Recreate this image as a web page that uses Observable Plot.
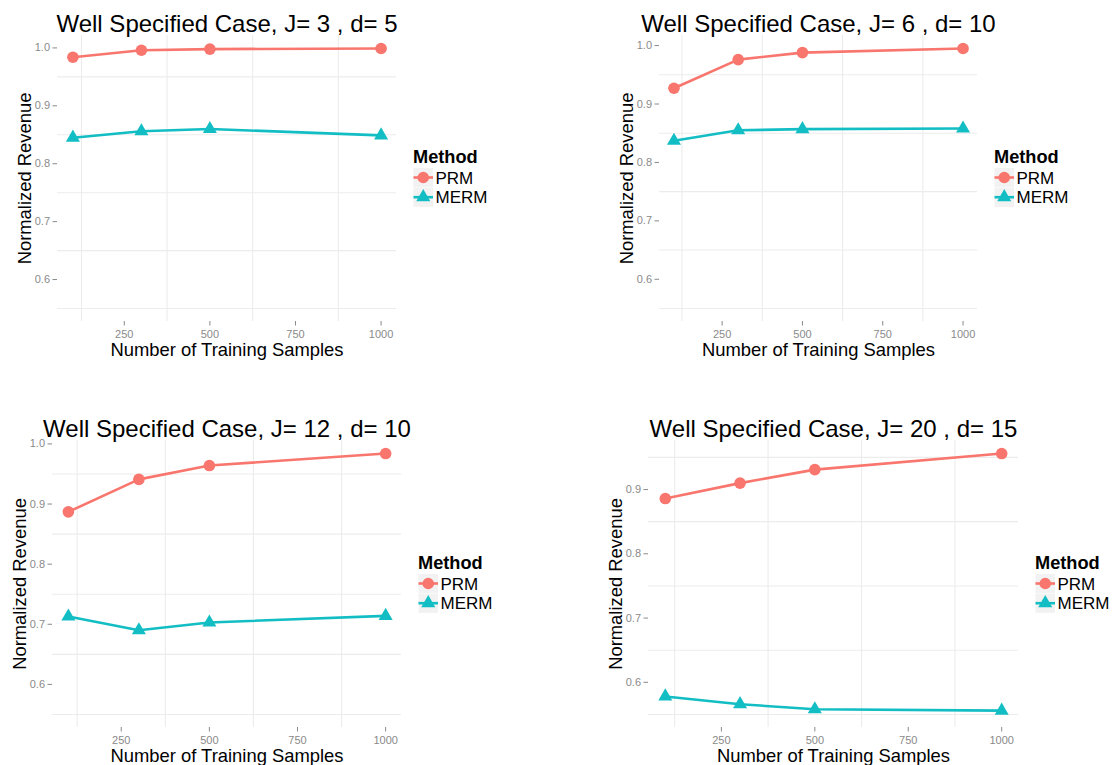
<!DOCTYPE html>
<html><head><meta charset="utf-8">
<script src="https://cdn.jsdelivr.net/npm/d3@7"></script>
<script src="https://cdn.jsdelivr.net/npm/@observablehq/plot@0.6"></script>
<style>
html,body{margin:0;padding:0;background:#fff;overflow:hidden;}
#chart{position:relative;width:1120px;height:765px;background:#fff;font-family:"Liberation Sans",Arial,Helvetica,sans-serif;}
#chart svg{position:absolute;overflow:visible;}
</style></head><body><div id="chart"></div>
<script>
// ---- data ----
const samples = [100, 300, 500, 1000];
const methods = ["PRM", "MERM"];
const titles = [
  "Well Specified Case, J= 3 , d= 5",
  "Well Specified Case, J= 6 , d= 10",
  "Well Specified Case, J= 12 , d= 10",
  "Well Specified Case, J= 20 , d= 15"
];
const xLabel = "Number of Training Samples";
const yLabel = "Normalized Revenue";
const legendTitle = "Method";
const xTicks = [250, 500, 750, 1000];
const yTicks = [0.6, 0.7, 0.8, 0.9, 1.0];
const xMinor = [125, 375, 625, 875];
const yMinor = [0.55, 0.65, 0.75, 0.85, 0.95];
const yLower = 0.55;

const prm_J3  = [0.984, 0.996, 0.998, 0.999];
const merm_J3 = [0.845, 0.856, 0.860, 0.849];
const prm_J6  = [0.927, 0.976, 0.988, 0.995];
const merm_J6 = [0.837, 0.855, 0.857, 0.858];
const prm_J12  = [0.887, 0.941, 0.964, 0.984];
const merm_J12 = [0.713, 0.690, 0.703, 0.714];
const prm_J20  = [0.886, 0.910, 0.931, 0.956];
const merm_J20 = [0.578, 0.566, 0.558, 0.556];

const series = [[prm_J3, merm_J3], [prm_J6, merm_J6], [prm_J12, merm_J12], [prm_J20, merm_J20]];
const colors = ["#F8766D", "#12BEC4"];

// ---- layout (panel frames in page pixels) ----
const frames = [
  {l: 57, r: 396, t: 35, b: 321},
  {l: 659, r: 977, t: 35, b: 321},
  {l: 52, r: 401, t: 440, b: 727},
  {l: 648, r: 1018, t: 440, b: 727}
];
const ML = 60, MT = 40, MR = 10, MB = 45;
const font = '"Liberation Sans", Arial, Helvetica, sans-serif';
const tickColor = "#8a8a8a";
const gridColor = "#ececec";

const chart = document.getElementById("chart");

series.forEach(([prm, merm], i) => {
  const f = frames[i];
  const rows = [];
  samples.forEach((n, j) => rows.push({n, v: prm[j], method: methods[0]}));
  samples.forEach((n, j) => rows.push({n, v: merm[j], method: methods[1]}));
  const hi = d3.max(rows, d => d.v);
  const pad = (hi - yLower) * 0.05;
  const xPad = (d3.max(samples) - d3.min(samples)) * 0.05;
  const yt = yTicks.filter(t => t >= yLower - pad && t <= hi + pad);

  const svg = Plot.plot({
    width: (f.r - f.l) + ML + MR,
    height: (f.b - f.t) + MT + MB,
    marginLeft: ML, marginRight: MR, marginTop: MT, marginBottom: MB,
    style: {fontFamily: font, background: "transparent", overflow: "visible"},
    x: {domain: [d3.min(samples) - xPad, d3.max(samples) + xPad]},
    y: {domain: [yLower - pad, hi + pad]},
    color: {domain: methods, range: colors},
    marks: [
      Plot.gridX(xMinor, {stroke: gridColor, strokeOpacity: 1, strokeWidth: 1.1}),
      Plot.gridY(yMinor, {stroke: gridColor, strokeOpacity: 1, strokeWidth: 1.1}),
      Plot.axisX(xTicks, {label: null, tickSize: 4.5, tickPadding: 4, fontSize: 11, color: tickColor, tickFormat: d => String(d)}),
      Plot.axisY(yt, {label: null, tickSize: 4.5, tickPadding: 3, fontSize: 11, color: tickColor, tickFormat: d3.format(".1f")}),
      Plot.line(rows, {x: "n", y: "v", z: "method", stroke: "method", strokeWidth: 2.6}),
      Plot.dot(rows.filter(d => d.method === methods[0]), {x: "n", y: "v", r: 5.8, fill: "method", symbol: "circle"}),
      Plot.dot(rows.filter(d => d.method === methods[1]), {x: "n", y: "v", r: 5.2, fill: "method", symbol: "triangle"}),
      Plot.text([titles[i]], {frameAnchor: "top", textAnchor: "middle", lineAnchor: "bottom", dy: -4, fontSize: 24, fill: "black"}),
      Plot.text([xLabel], {frameAnchor: "bottom", textAnchor: "middle", lineAnchor: "bottom", dy: 34, fontSize: 18.4, fill: "black"}),
      Plot.text([yLabel], {frameAnchor: "left", textAnchor: "middle", lineAnchor: "bottom", rotate: -90, dx: -27, fontSize: 18.4, fill: "black"})
    ]
  });
  svg.style.left = (f.l - ML) + "px";
  svg.style.top = (f.t - MT) + "px";
  chart.appendChild(svg);

  // legend
  const cy = (f.t + f.b) / 2;
  const lg = d3.create("svg")
    .attr("width", 110).attr("height", 80)
    .style("left", (f.r + 16) + "px")
    .style("top", (cy - 40) + "px")
    .style("font-family", font);
  lg.append("text").attr("x", 1).attr("y", 40 - 15.5)
    .attr("font-size", 18.2).attr("font-weight", "bold").attr("fill", "black").text(legendTitle);
  methods.forEach((m, k) => {
    const kc = 40 - 0.5 + k * 19.7;
    const g = lg.append("g");
    g.append("rect").attr("x", 1.5).attr("y", kc - 9.5).attr("width", 19.5).attr("height", 19.2).attr("fill", "#f2f2f2");
    g.append("line").attr("x1", 1.5).attr("x2", 21).attr("y1", kc).attr("y2", kc)
      .attr("stroke", colors[k]).attr("stroke-width", 2.6);
    const sym = k === 0 ? d3.symbolCircle : d3.symbolTriangle;
    const r = k === 0 ? 5.8 : 5.2;
    g.append("path").attr("d", d3.symbol(sym, Math.PI * r * r)())
      .attr("transform", `translate(11.25,${kc})`).attr("fill", colors[k]);
    lg.append("text").attr("x", 23.5).attr("y", kc + 6).attr("font-size", 17).attr("fill", "black").text(m);
  });
  chart.appendChild(lg.node());
});
</script></body></html>
